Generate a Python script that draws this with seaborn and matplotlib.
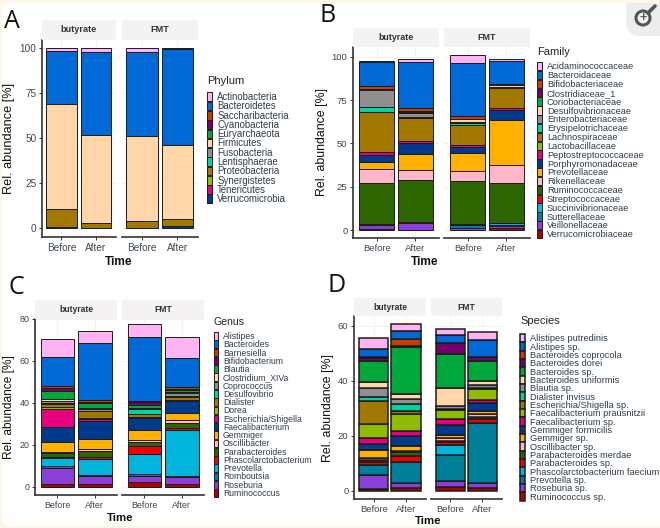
import pandas as pd
import matplotlib
matplotlib.use("Agg")
import matplotlib.pyplot as plt
from matplotlib.patches import Rectangle, Circle, FancyBboxPatch
from matplotlib.lines import Line2D
from matplotlib.transforms import IdentityTransform
import seaborn as sns

W, H = 660, 528

# palette shared by all four panels, in legend order
colors = ["#FFB3F2", "#0069D6", "#C24100", "#760070", "#00A83C", "#FFD6A8", "#8F8F8F",
          "#00D4A0", "#A37800", "#8FBB00", "#E6007E", "#003A8C", "#FFB000", "#FFB6C8",
          "#2D6500", "#F00000", "#00B4DC", "#007F99", "#8A3FD9", "#B00000"]
times = ["Before", "After"]
facets = ["butyrate", "FMT"]

# ---- panel A
phylum = ["Actinobacteria", "Bacteroidetes", "Saccharibacteria", "Cyanobacteria", "Euryarchaeota",
          "Firmicutes", "Fusobacteria", "Lentisphaerae", "Proteobacteria", "Synergistetes",
          "Tenericutes", "Verrucomicrobia"]
a_but_before = [1.5, 29.2, 0, 0, 0, 58.8, 0, 0, 10.0, 0, 0, 0.5]
a_but_after = [1.8, 46.4, 0, 0, 0, 48.8, 0, 0, 3.0, 0, 0, 0]
a_fmt_before = [1.8, 46.7, 0, 0, 0, 47.8, 0, 0, 3.5, 0, 0, 0.2]
a_fmt_after = [0.3, 53.2, 0, 0, 0, 41.5, 0, 0, 4.0, 0, 0, 1.0]

# ---- panel B
family = ["Acidaminococcaceae", "Bacteroidaceae", "Bifidobacteriaceae", "Clostridiaceae_1",
          "Coriobacteriaceae", "Desulfovibrionaceae", "Enterobacteriaceae", "Erysipelotrichaceae",
          "Lachnospiraceae", "Lactobacillaceae", "Peptostreptococcaceae", "Porphyromonadaceae",
          "Prevotellaceae", "Rikenellaceae", "Ruminococcaceae", "Streptococcaceae",
          "Succinivibrionaceae", "Sutterellaceae", "Veillonellaceae", "Verrucomicrobiaceae"]
b_but_before = [0.8, 14.0, 1.5, 0.2, 0.1, 0.1, 10.0, 3.0, 23.0, 0.1, 1.5, 4.0, 4.0, 8.5, 23.5, 0.5, 0, 0, 2.5, 0.4]
b_but_after = [1.5, 26.8, 1.8, 0.3, 0.5, 0.2, 2.0, 0.5, 13.5, 0.1, 1.3, 6.3, 9.0, 5.9, 24.0, 1.0, 0, 0, 3.5, 0.3]
b_fmt_before = [4.5, 30.5, 1.7, 0.1, 0.1, 2.0, 0.3, 1.0, 11.5, 0.1, 1.5, 3.0, 10.8, 5.7, 24.8, 0.2, 0.3, 1.7, 1.0, 0.2]
b_fmt_after = [1.2, 13.3, 0.4, 0.2, 0.1, 1.2, 0.2, 0.1, 11.7, 0.1, 0.8, 6.2, 25.6, 10.5, 22.9, 0.1, 1.0, 1.0, 1.0, 1.1]

# ---- panel C
genus = ["Alistipes", "Bacteroides", "Barnesiella", "Bifidobacterium", "Blautia", "Clostridium_XIVa",
         "Coprococcus", "Desulfovibrio", "Dialister", "Dorea", "Escherichia/Shigella",
         "Faecalibacterium", "Gemmiger", "Oscillibacter", "Parabacteroides",
         "Phascolarctobacterium", "Prevotella", "Romboutsia", "Roseburia", "Ruminococcus"]
c_but_before = [8.5, 13.9, 1.1, 1.2, 3.8, 1.2, 0.8, 0.6, 1.2, 1.0, 8.4, 7.3, 4.9, 0.5, 1.6, 0.9, 3.6, 1.2, 7.4, 1.3]
c_but_after = [5.6, 27.1, 1.3, 0.4, 2.5, 0.3, 0.8, 0.3, 3.2, 0.4, 1.1, 8.4, 4.7, 1.0, 3.0, 1.0, 7.8, 0.4, 3.8, 1.2]
c_fmt_before = [5.9, 30.4, 0.9, 1.3, 1.5, 0.2, 0.3, 2.0, 1.6, 0.3, 0.2, 5.9, 4.6, 1.2, 1.7, 3.9, 9.2, 1.1, 3.1, 2.1]
c_fmt_after = [10.0, 13.6, 1.4, 0.3, 1.0, 0.2, 1.6, 0.3, 1.6, 0.3, 0.2, 5.8, 3.5, 1.1, 2.5, 1.0, 22.1, 0.4, 3.2, 1.3]

# ---- panel D
species = ["Alistipes putredinis", "Alistipes sp.", "Bacteroides coprocola", "Bacteroides dorei",
           "Bacteroides sp.", "Bacteroides uniformis", "Blautia sp.", "Dialister invisus",
           "Escherichia/Shigella sp.", "Faecalibacterium prausnitzii", "Faecalibacterium sp.",
           "Gemmiger formicilis", "Gemmiger sp.", "Oscillibacter sp.", "Parabacteroides merdae",
           "Parabacteroides sp.", "Phascolarctobacterium faecium", "Prevotella sp.", "Roseburia sp.",
           "Ruminococcus sp."]
d_but_before = [4.1, 2.9, 0.2, 1.3, 7.6, 2.2, 3.0, 1.7, 8.4, 5.1, 2.1, 2.3, 2.7, 0.8, 0.6, 1.3, 0.1, 3.4, 5.2, 0.6]
d_but_after = [2.4, 2.8, 2.7, 0.5, 17.0, 1.8, 1.8, 2.5, 1.3, 6.0, 2.0, 3.4, 1.8, 0.6, 1.2, 2.3, 0.1, 7.7, 1.8, 0.9]
d_fmt_before = [2.0, 2.9, 0.1, 3.9, 12.5, 6.6, 1.2, 0.1, 0.1, 3.2, 2.3, 3.5, 1.2, 1.2, 0.1, 1.3, 3.5, 9.7, 1.9, 1.5]
d_fmt_after = [2.8, 6.1, 0.1, 1.5, 7.2, 1.6, 1.1, 0.1, 0.2, 3.8, 1.3, 2.7, 1.3, 1.0, 0.8, 1.3, 0.1, 21.9, 1.7, 1.1]

sns.set_theme(style="ticks")
plt.rcParams["font.family"] = ["Liberation Sans", "DejaVu Sans"]
fig = plt.figure(figsize=(W / 100, H / 100), dpi=100, facecolor="#FFF6EA")
px = IdentityTransform()

# page furniture: white card with rounded corners on a cream page
fig.add_artist(FancyBboxPatch((2, 2), W + 20, H - 5, boxstyle="round,pad=0,rounding_size=6", transform=px,
                              facecolor="white", edgecolor="none", zorder=-1))


def px_axes(x0, y0, x1, y1):
    # axes from pixel box, y measured from the top of the image
    return fig.add_axes([x0 / W, 1 - y1 / H, (x1 - x0) / W, (y1 - y0) / H])


def draw_panel(letter, letter_xy, taxa, name, values, boxes, strip_top, bottom, top, ylim, yticks, xlim,
               shrink, lw, time_xy, leg):
    pal = dict(zip(taxa, colors))
    for i, facet in enumerate(facets):
        x0, x1 = boxes[i]
        ax = px_axes(x0, top, x1, bottom)
        df = pd.DataFrame({
            "Time": pd.Categorical([times[0]] * len(taxa) + [times[1]] * len(taxa), categories=times),
            name: taxa + taxa,
            "Abundance": values[i][0] + values[i][1],
        })
        sns.histplot(data=df, x="Time", hue=name, weights="Abundance", multiple="stack", hue_order=taxa,
                     palette=pal, shrink=shrink, alpha=1, edgecolor="#1c1c1c", linewidth=lw,
                     legend=(i == 1), ax=ax, zorder=3)
        ax.set_xlim(*xlim)
        ax.set_ylim(*ylim)
        ax.set_yticks(yticks)
        ax.grid(color="#F5F1F1", lw=0.7)
        ax.set_axisbelow(True)
        ax.set_xlabel("")
        ax.tick_params(axis="both", labelsize=leg["tick"], length=2, width=0.7, color="#333333",
                       labelcolor="#3C4550", pad=2)
        sns.despine(ax=ax)
        ax.spines["bottom"].set_linewidth(1.2)
        ax.spines["bottom"].set_color("#333333")
        if i == 0:
            ax.spines["left"].set_linewidth(1.2)
            ax.spines["left"].set_color("#333333")
            ax.set_ylabel("Rel. abundance [%]", fontsize=leg["ylab"], color="#111111", labelpad=leg["pad"])
        else:
            ax.spines["left"].set_visible(False)
            ax.tick_params(axis="y", left=False, labelleft=False)
            ax.set_ylabel("")
            sns.move_legend(ax, "upper left", bbox_to_anchor=(leg["x"] / W, 1 - leg["y"] / H),
                            bbox_transform=fig.transFigure, frameon=False, title=name, borderpad=0,
                            borderaxespad=0, fontsize=leg["size"], title_fontsize=leg["title"],
                            labelspacing=leg["ls"], handlelength=0.5, handleheight=1.0,
                            handletextpad=leg["gap"])
            lg = ax.get_legend()
            lg._legend_box.align = "left"
            lg._legend_box.sep = leg["sep"]
            lg.get_title().set_color("#222222")
            for t in lg.get_texts():
                t.set_color("#2E3B48")
        # facet strip
        fig.add_artist(Rectangle((x0 / W, 1 - top / H), (x1 - x0) / W, (top - strip_top) / H,
                                 transform=fig.transFigure, facecolor="#F4F2F2", edgecolor="none"))
        fig.text((x0 + x1) / 2 / W, 1 - (strip_top + top) / 2 / H, facet, ha="center", va="center",
                 fontsize=leg["strip"], fontweight="bold", color="#333333")
    fig.text(time_xy[0] / W, 1 - time_xy[1] / H, "Time", ha="center", va="center", fontsize=leg["time"],
             fontweight="bold", color="#111111")
    fig.text(letter_xy[0] / W, 1 - letter_xy[1] / H, letter, ha="left", va="center", fontsize=18,
             fontfamily="Open Sans", color="#111111")


draw_panel("A", (4, 21), phylum, "Phylum",
           [(a_but_before, a_but_after), (a_fmt_before, a_fmt_after)],
           [(42, 116), (122, 198)], 20, 237, 40, (-5, 104.7), [0, 25, 50, 75, 100], (-0.565, 1.58), 0.88, 0.7,
           (119, 262),
           dict(x=207, y=76, size=6.9, title=8, ls=-0.075, sep=4.3, gap=0.55, tick=7.2, ylab=9.2, pad=3,
                strip=6.6, time=8.6))
draw_panel("B", (319, 15), family, "Family",
           [(b_but_before, b_but_after), (b_fmt_before, b_fmt_after)],
           [(353, 439), (444, 530)], 28, 238, 47, (-4.6, 105.6), [0, 25, 50, 75, 100], (-0.62, 1.62), 0.91, 0.7,
           (425, 262),
           dict(x=537, y=47, size=6.7, title=8, ls=-0.055, sep=3.6, gap=0.55, tick=6.8, ylab=8.9, pad=3,
                strip=6.4, time=8.6))
draw_panel("C", (8, 288), genus, "Genus",
           [(c_but_before, c_but_after), (c_fmt_before, c_fmt_after)],
           [(35, 117), (122, 204)], 300, 495, 319, (-3.95, 80), [0, 20, 40, 60, 80], (-0.6, 1.59), 0.89, 0.7,
           (120, 518),
           dict(x=214, y=317, size=6.2, title=7.6, ls=-0.086, sep=3.6, gap=0.55, tick=6.4, ylab=8.6, pad=3,
                strip=6.2, time=8.2))
draw_panel("D", (328, 286), species, "Species",
           [(d_but_before, d_but_after), (d_fmt_before, d_fmt_after)],
           [(354, 426), (431, 502)], 298, 499, 316, (-3.0, 63.6), [0, 20, 40, 60], (-0.61, 1.62), 0.9, 1.1,
           (428, 521),
           dict(x=520, y=316, size=6.7, title=8, ls=-0.11, sep=5.8, gap=0.55, tick=6.8, ylab=8.9, pad=3,
                strip=6.2, time=8.2))

# zoom button in the top right corner
fig.add_artist(FancyBboxPatch((626, H - 36), 60, 60, boxstyle="round,pad=0,rounding_size=14", transform=px,
                              facecolor="#EDEDED", edgecolor="none"))
fig.add_artist(Rectangle((610, H - 3), 50, 3, transform=px, facecolor="#FFF6EA", edgecolor="none"))
fig.add_artist(Line2D([648, 655], [H - 13, H - 6], transform=px, color="#555555", lw=2.6))
fig.add_artist(Circle((643, H - 18), 7, transform=px, facecolor="#F2F2F2", edgecolor="#555555", lw=2.2))
fig.text(643 / W, 1 - 18 / H, "+", ha="center", va="center", fontsize=9, fontweight="bold", color="#555555")

fig.savefig("out.png", dpi=100, facecolor=fig.get_facecolor())
